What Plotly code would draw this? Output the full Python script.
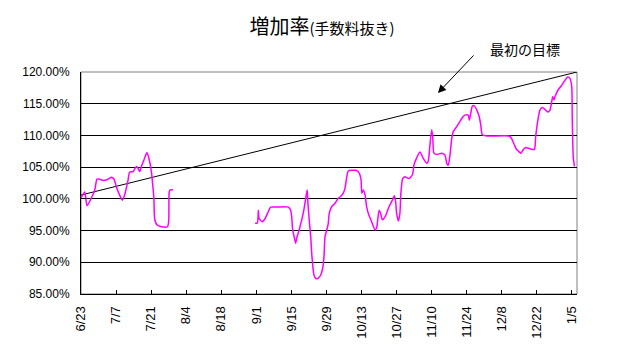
import plotly.graph_objects as go

# days since 6/23 and rate (%)
day = [0, 1.5, 2.4, 4.1, 5.5, 6.4, 7.5, 8.8, 10.8, 12.1, 13.2, 14.1, 15.4, 16.5, 17.4, 18.8,
       19.4, 20.8, 22.1, 22.8, 23.4, 24.1, 25.1, 26.3, 27.1, 28.1, 28.7, 29.1, 29.4, 30.3,
       32.1, 34.5, 35.0, 35.2, 35.6, 36.7,
       None,
       69.5, 70.4, 70.8, 71.1, 72.4, 73.5, 74.8, 75.7, 78.1, 82.8, 83.7, 84.1, 84.5, 85.1,
       85.7, 86.1, 87.1, 88.7, 89.8, 90.3, 90.6, 91.1, 91.7, 92.2, 93.0, 93.8, 94.7, 95.7,
       96.5, 97.0, 97.4, 98.1, 98.7, 99.1, 100.1, 101.4, 102.7, 103.4, 104.7, 105.4, 106.1,
       106.7, 108.1, 109.7, 111.0, 111.8, 112.1, 112.7, 113.4, 114.0, 114.7, 116.0, 117.4,
       118.0, 119.0, 119.6, 120.3, 121.4, 123.0, 124.3, 125.1, 125.6, 126.0, 126.7, 127.3,
       127.7, 128.4, 129.3, 130.9, 132.3, 132.9, 133.6, 135.3, 136.6, 138.0, 138.6, 139.3,
       140.0, 140.4, 140.9, 142.0, 144.0, 145.3, 146.0, 146.6, 147.3, 148.0, 148.6, 150.0,
       151.3, 152.4, 153.3, 154.6, 155.0, 155.6, 156.2, 156.9, 158.0, 159.0, 159.6, 160.2,
       162.0, 170.9, 171.9, 173.0, 173.7, 174.9, 175.6, 176.6, 177.5, 179.2, 181.0, 181.5,
       182.3, 183.2, 184.2, 185.2, 186.3, 187.2, 187.9, 188.3, 188.8, 189.2, 190.5, 191.9,
       193.2, 194.3, 195.2, 195.9, 196.1, 196.5, 197.0]
rate = [100.1, 101.1, 98.9, 100.1, 101.4, 103.1, 103.1, 102.9, 103.1, 103.4, 103.1, 101.9,
        100.6, 99.8, 100.6, 103.0, 104.2, 104.3, 105.1, 104.8, 104.3, 105.1, 106.1, 107.3,
        106.4, 104.3, 101.9, 100.1, 96.9, 95.9, 95.6, 95.6, 96.4, 101.0, 101.4, 101.4,
        None,
        96.15, 96.2, 98.2, 96.9, 96.4, 96.9, 98.0, 98.7, 98.7, 98.7, 98.2, 97.2, 95.1, 94.0,
        93.0, 93.8, 95.1, 97.7, 100.3, 101.4, 99.3, 96.7, 94.0, 90.9, 88.0, 87.4, 87.5, 88.0,
        89.1, 90.9, 94.0, 95.1, 96.1, 97.7, 98.8, 99.3, 100.1, 100.3, 100.9, 101.7, 103.5,
        104.4, 104.5, 104.5, 104.1, 103.0, 100.9, 101.4, 100.6, 98.8, 97.7, 96.4, 95.1,
        95.4, 98.2, 97.7, 96.7, 97.2, 98.8, 99.8, 100.5, 99.6, 97.7, 96.5, 97.7,
        100.9, 103.2, 103.5, 103.2, 103.8, 105.3, 106.1, 107.4, 106.4, 105.6, 105.9, 108.5,
        110.9, 109.8, 107.2, 107.0, 107.2, 106.9, 105.6, 105.3, 106.9, 109.5, 110.6, 111.4,
        112.2, 112.9, 113.2, 113.2, 112.4, 113.5, 114.6, 114.7, 114.0, 112.9, 111.6, 110.1,
        109.9, 109.9, 109.5, 108.5, 107.9, 107.4, 107.2, 107.8, 108.1, 107.9, 107.8, 109.8,
        112.2, 114.0, 114.4, 114.1, 113.7, 114.0, 115.3, 116.1, 115.6, 116.1, 117.2, 117.9,
        118.7, 119.2, 119.0, 117.7, 112.9, 106.6, 105.1]

target_day = [0, 198]
target_rate = [100.6, 120.0]

tick_days = [0, 14, 28, 42, 56, 70, 84, 98, 112, 126, 140, 154, 168, 182, 196]
tick_labels = ["6/23", "7/7", "7/21", "8/4", "8/18", "9/1", "9/15", "9/29", "10/13",
               "10/27", "11/10", "11/24", "12/8", "12/22", "1/5"]
y_ticks = [85, 90, 95, 100, 105, 110, 115, 120]
y_labels = ["85.00%", "90.00%", "95.00%", "100.00%", "105.00%", "110.00%", "115.00%", "120.00%"]

FONT = "Liberation Sans, Noto Sans CJK JP, sans-serif"
W, H = 631, 349  # page body has an 8px margin

fig = go.Figure()
fig.add_trace(go.Scatter(x=target_day, y=target_rate, mode="lines",
                         line=dict(color="black", width=1), showlegend=False))
fig.add_trace(go.Scatter(x=day, y=rate, mode="lines", connectgaps=False,
                         line=dict(color="#FF00FF", width=1.5, shape="spline", smoothing=0.6),
                         showlegend=False))

fig.add_shape(type="rect", xref="paper", yref="paper", x0=0, y0=0, x1=1, y1=1,
              line=dict(color="#808080", width=1), layer="below")

fig.add_annotation(x=142.5, y=116.7, xref="x", yref="y", text="", showarrow=True,
                   ax=37, ay=-39, arrowhead=2, arrowsize=1.6, arrowwidth=1, arrowcolor="black")
fig.add_annotation(xref="paper", yref="paper", x=(525 - 81) / 496, y=(294 - 49) / 222,
                   xanchor="center", yanchor="middle", text="最初の目標", showarrow=False,
                   font=dict(family="Noto Sans CJK JP", size=14, color="black"))

fig.update_layout(
    width=W, height=H,
    margin=dict(l=73, r=62, t=64, b=63),
    paper_bgcolor="white", plot_bgcolor="white",
    font=dict(family=FONT, size=12, color="black"),
    title=dict(text="増加率<span style='font-size:15px'>(手数料抜き)</span>",
               x=(322 - 8) / W, xanchor="center", y=1 - 19 / H, yanchor="middle",
               font=dict(family="Noto Sans CJK JP", size=20, color="black", weight="normal")),
    xaxis=dict(range=[0, 198], tickvals=tick_days, ticktext=tick_labels, tickangle=-90,
               showgrid=False, zeroline=False, showline=True, linecolor="black", linewidth=1,
               ticks="inside", ticklen=4, tickcolor="black", ticklabelstandoff=6,
               tickfont=dict(size=13)),
    yaxis=dict(range=[85, 120], tickvals=y_ticks, ticktext=y_labels,
               showgrid=True, gridcolor="black", gridwidth=1, zeroline=False,
               showline=True, linecolor="black", linewidth=1,
               ticks="inside", ticklen=5, tickcolor="black", ticklabelstandoff=8),
)

fig.write_html("out.html")
